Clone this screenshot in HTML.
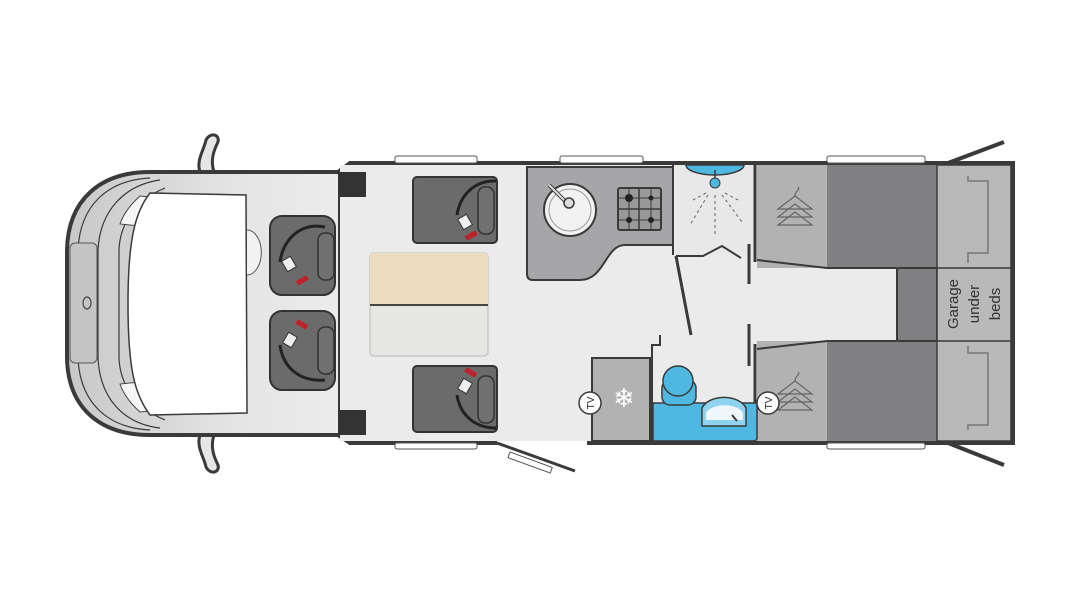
<!DOCTYPE html>
<html><head><meta charset="utf-8"><style>html,body{margin:0;padding:0;background:#fff;width:1080px;height:608px;overflow:hidden}</style></head>
<body>
<svg width="1080" height="608" viewBox="0 0 1080 608" xmlns="http://www.w3.org/2000/svg">
<defs>
<linearGradient id="cab" x1="0" x2="1" y1="0" y2="0">
<stop offset="0" stop-color="#c8c8c8"/><stop offset="0.6" stop-color="#e4e4e4"/><stop offset="1" stop-color="#ececec"/>
</linearGradient>
</defs>
<!-- mirrors -->
<path d="M200 172 C196 160 204 150 206 140 C210 132 220 134 218 142 C214 150 210 160 214 172 Z" fill="#e6e6e6" stroke="#3a3a3a" stroke-width="3"/>
<path d="M200 435 C196 447 204 457 206 467 C210 475 220 473 218 465 C214 457 210 447 214 435 Z" fill="#e6e6e6" stroke="#3a3a3a" stroke-width="3"/>
<!-- cab body -->
<path d="M340 172 L150 172 C100 172 68 200 67 250 L67 358 C68 408 100 435 150 435 L340 435 Z" fill="url(#cab)" stroke="#3a3a3a" stroke-width="4"/>
<path d="M150 178 C108 180 80 205 78 250 L78 358 C80 403 108 428 150 430" fill="none" stroke="#3a3a3a" stroke-width="1.2"/>
<path d="M160 180 C125 185 100 210 98 250 L98 358 C100 400 125 424 160 428" fill="none" stroke="#3a3a3a" stroke-width="1.2"/>
<rect x="70" y="243" width="27" height="120" rx="5" fill="#c4c4c4" stroke="#555" stroke-width="1"/>
<ellipse cx="87" cy="303" rx="4" ry="6" fill="none" stroke="#444" stroke-width="1.2"/>
<path d="M165 188 C140 198 120 220 119 250 L119 358 C120 388 140 410 165 420" fill="#d0d0d0" stroke="#3a3a3a" stroke-width="1.2"/>
<path d="M140 196 C130 205 123 215 120 224 L140 226 C145 215 150 205 160 198 Z" fill="#f6f6f6" stroke="#444" stroke-width="1"/>
<path d="M140 412 C130 403 123 393 120 384 L140 382 C145 393 150 403 160 410 Z" fill="#f6f6f6" stroke="#444" stroke-width="1"/>
<path d="M150 193 L246 195 L247 413 L150 415 C135 395 128 370 128 304 C128 240 135 212 150 193 Z" fill="#fff" stroke="#3a3a3a" stroke-width="1.5"/>
<path d="M247 230 A14 22 0 0 1 247 275" fill="#f2f2f2" stroke="#555" stroke-width="1"/>
<!-- living body -->
<path d="M338 172 L350 163 L1013 163 L1013 443 L587 443 M497 443 L350 443 L338 435" fill="none" stroke="#3a3a3a" stroke-width="4"/>
<rect x="340" y="165" width="673" height="276" fill="#ebebec"/>
<rect x="338" y="172" width="28" height="25" fill="#333"/>
<rect x="338" y="410" width="28" height="25" fill="#333"/>
<line x1="350" y1="163" x2="1013" y2="163" stroke="#3a3a3a" stroke-width="4"/>
<line x1="1013" y1="163" x2="1013" y2="443" stroke="#3a3a3a" stroke-width="4"/>
<line x1="587" y1="443" x2="1013" y2="443" stroke="#3a3a3a" stroke-width="4"/>
<line x1="350" y1="443" x2="497" y2="443" stroke="#3a3a3a" stroke-width="4"/>
<!-- windows -->
<g fill="#fff" stroke="#555" stroke-width="1">
<rect x="395" y="156" width="82" height="7" rx="2"/><rect x="560" y="156" width="83" height="7" rx="2"/><rect x="827" y="156" width="98" height="7" rx="2"/>
<rect x="395" y="443" width="82" height="6" rx="2"/><rect x="827" y="443" width="98" height="6" rx="2"/>
</g>
<!-- entrance door -->
<line x1="497" y1="443" x2="575" y2="471" stroke="#3a3a3a" stroke-width="3"/>
<rect x="510" y="452" width="45" height="6" fill="#fff" stroke="#555" stroke-width="1" transform="rotate(20 510 452)"/>
<!-- rear lines -->
<line x1="948" y1="163" x2="1004" y2="142" stroke="#3a3a3a" stroke-width="4"/>
<line x1="948" y1="443" x2="1004" y2="465" stroke="#3a3a3a" stroke-width="4"/>
<!-- cab seats -->
<g>
<rect x="270" y="216" width="65" height="79" rx="12" fill="#6b6b6b" stroke="#333" stroke-width="2"/>
<rect x="318" y="233" width="16" height="47" rx="7" fill="#707070" stroke="#333" stroke-width="1.5"/>
<path d="M325 227 C300 222 283 240 280 262" fill="none" stroke="#222" stroke-width="3"/>
<rect x="284" y="258" width="10" height="12" fill="#eee" stroke="#333" transform="rotate(-30 289 264)"/>
<rect x="296" y="278" width="12" height="5" fill="#c0202a" transform="rotate(-30 302 280)"/>
<rect x="270" y="311" width="65" height="79" rx="12" fill="#6b6b6b" stroke="#333" stroke-width="2"/>
<rect x="318" y="327" width="16" height="47" rx="7" fill="#707070" stroke="#333" stroke-width="1.5"/>
<path d="M325 380 C300 382 283 368 280 345" fill="none" stroke="#222" stroke-width="3"/>
<rect x="285" y="334" width="10" height="12" fill="#eee" stroke="#333" transform="rotate(30 290 340)"/>
<rect x="296" y="322" width="12" height="5" fill="#c0202a" transform="rotate(30 302 324)"/>
</g>
<!-- swivel seats -->
<rect x="413" y="177" width="84" height="66" rx="4" fill="#6b6b6b" stroke="#333" stroke-width="2"/>
<rect x="478" y="187" width="16" height="47" rx="7" fill="#707070" stroke="#333" stroke-width="1.5"/>
<path d="M496 181 C475 180 460 195 457 215" fill="none" stroke="#222" stroke-width="3"/>
<rect x="460" y="216" width="10" height="12" fill="#eee" stroke="#333" transform="rotate(-30 465 222)"/>
<rect x="465" y="233" width="12" height="5" fill="#c0202a" transform="rotate(-30 471 235)"/>
<rect x="413" y="366" width="84" height="66" rx="4" fill="#6b6b6b" stroke="#333" stroke-width="2"/>
<rect x="478" y="376" width="16" height="47" rx="7" fill="#707070" stroke="#333" stroke-width="1.5"/>
<path d="M496 428 C475 428 460 415 457 395" fill="none" stroke="#222" stroke-width="3"/>
<rect x="460" y="380" width="10" height="12" fill="#eee" stroke="#333" transform="rotate(30 465 386)"/>
<rect x="465" y="370" width="12" height="5" fill="#c0202a" transform="rotate(30 471 372)"/>
<!-- table -->
<rect x="370" y="253" width="118" height="103" rx="4" fill="#e6e6e3" stroke="#c9c9c9" stroke-width="1.5"/>
<path d="M370 305 L370 257 Q370 253 374 253 L484 253 Q488 253 488 257 L488 305 Z" fill="#ecdcc0"/>
<line x1="370" y1="305" x2="488" y2="305" stroke="#444" stroke-width="2"/>
<!-- kitchen -->
<path d="M527 167 L673 167 L673 245 L625 245 C605 245 605 280 580 280 L533 280 Q527 280 527 274 Z" fill="#a6a6a8" stroke="#3a3a3a" stroke-width="2"/>
<circle cx="570" cy="210" r="26" fill="#f2f2f2" stroke="#3a3a3a" stroke-width="2"/>
<circle cx="570" cy="210" r="21" fill="none" stroke="#999" stroke-width="1"/>
<line x1="549" y1="185" x2="567" y2="203" stroke="#3a3a3a" stroke-width="4"/><line x1="549" y1="185" x2="567" y2="203" stroke="#ddd" stroke-width="2"/>
<circle cx="569" cy="203" r="5" fill="#ddd" stroke="#3a3a3a" stroke-width="1.5"/>
<rect x="618" y="188" width="43" height="42" rx="2" fill="#999" stroke="#3a3a3a" stroke-width="2"/>
<line x1="639" y1="188" x2="639" y2="230" stroke="#3a3a3a" stroke-width="1.5"/><line x1="618" y1="209" x2="661" y2="209" stroke="#3a3a3a" stroke-width="1.5"/>
<g stroke="#3a3a3a" stroke-width="1">
<line x1="629" y1="188" x2="629" y2="230"/><line x1="651" y1="188" x2="651" y2="230"/><line x1="618" y1="198" x2="661" y2="198"/><line x1="618" y1="220" x2="661" y2="220"/></g>
<circle cx="629" cy="198" r="4" fill="#222"/><circle cx="651" cy="198" r="2.5" fill="#222"/><circle cx="629" cy="220" r="3" fill="#222"/><circle cx="651" cy="220" r="3" fill="#222"/>
<!-- shower -->
<rect x="676" y="165" width="79" height="90" fill="#e8e8e8"/>
<path d="M686 165 A29 10 0 0 0 744 165 Z" fill="#4fb8e0" stroke="#3a3a3a" stroke-width="1.5"/>
<line x1="715" y1="170" x2="715" y2="180" stroke="#3a3a3a" stroke-width="1.5"/>
<circle cx="715" cy="183" r="5" fill="#4fb8e0" stroke="#3a3a3a" stroke-width="1"/>
<g stroke="#666" stroke-width="1" stroke-dasharray="3 3">
<line x1="715" y1="195" x2="715" y2="235"/><line x1="708" y1="195" x2="690" y2="225"/><line x1="722" y1="195" x2="742" y2="222"/><line x1="706" y1="193" x2="693" y2="200"/><line x1="725" y1="193" x2="738" y2="200"/></g>
<line x1="673" y1="163" x2="673" y2="255" stroke="#3a3a3a" stroke-width="2"/>
<line x1="755" y1="163" x2="755" y2="262" stroke="#3a3a3a" stroke-width="3"/>
<polyline points="676,256 703,256 722,246 741,258" fill="none" stroke="#3a3a3a" stroke-width="2"/>
<line x1="676" y1="256" x2="691" y2="335" stroke="#3a3a3a" stroke-width="3"/>
<line x1="749" y1="244" x2="749" y2="284" stroke="#3a3a3a" stroke-width="3"/>
<line x1="749" y1="324" x2="749" y2="366" stroke="#3a3a3a" stroke-width="3"/>
<!-- bedroom -->
<rect x="757" y="165" width="70" height="103" fill="#b2b2b3"/>
<rect x="827" y="165" width="110" height="103" fill="#808083"/>
<rect x="757" y="341" width="70" height="100" fill="#b2b2b3"/>
<rect x="827" y="341" width="110" height="100" fill="#808083"/>
<rect x="897" y="268" width="40" height="73" rx="2" fill="#808083" stroke="#3a3a3a" stroke-width="2"/>
<polyline points="757,260 827,268 897,268" fill="none" stroke="#3a3a3a" stroke-width="2"/>
<polyline points="757,349 827,341 897,341" fill="none" stroke="#3a3a3a" stroke-width="2"/>
<line x1="755" y1="344" x2="755" y2="443" stroke="#3a3a3a" stroke-width="3"/>
<rect x="937" y="165" width="74" height="276" fill="#b9b9ba" stroke="#3a3a3a" stroke-width="1.5"/>
<line x1="937" y1="268" x2="1011" y2="268" stroke="#3a3a3a" stroke-width="1.5"/>
<line x1="937" y1="341" x2="1011" y2="341" stroke="#3a3a3a" stroke-width="1.5"/>
<polyline points="968,176 968,181 988,181 988,253 968,253 968,263" fill="none" stroke="#777" stroke-width="1.5"/>
<polyline points="968,346 968,353 988,353 988,425 968,425 968,430" fill="none" stroke="#777" stroke-width="1.5"/>
<text transform="translate(958 304) rotate(-90)" text-anchor="middle" font-family="Liberation Sans, sans-serif" font-size="15" fill="#333"><tspan x="0" dy="0">Garage</tspan><tspan x="0" dy="21">under</tspan><tspan x="0" dy="21">beds</tspan></text>
<!-- hangers -->
<g fill="none" stroke="#666" stroke-width="1.2">
<path d="M778 209 L795 196 L812 209 Z"/><path d="M778 217 L795 204 L812 217 Z"/><path d="M778 225 L795 212 L812 225 Z"/>
<path d="M795 196 C795 190 801 190 798 187"/>
<path d="M778 394 L795 381 L812 394 Z"/><path d="M778 402 L795 389 L812 402 Z"/><path d="M778 410 L795 397 L812 410 Z"/>
<path d="M795 381 C795 375 801 375 798 372"/>
</g>
<!-- fridge -->
<rect x="592" y="358" width="58" height="83" fill="#b2b2b3" stroke="#3a3a3a" stroke-width="2"/>
<text x="624" y="407" text-anchor="middle" font-family="DejaVu Sans, sans-serif" font-size="26" fill="#fff">❄</text>
<!-- bathroom -->
<polyline points="652,443 652,345 660,345 660,335" fill="none" stroke="#3a3a3a" stroke-width="2"/>
<path d="M653 403 L757 403 L757 438 Q757 441 752 441 L653 441 Z" fill="#4fb8e0" stroke="#3a3a3a" stroke-width="1.5"/>
<rect x="662" y="380" width="34" height="25" rx="8" fill="#4fb8e0" stroke="#3a3a3a" stroke-width="1.5"/>
<circle cx="678" cy="381" r="15" fill="#4fb8e0" stroke="#3a3a3a" stroke-width="1.5"/>
<path d="M702 426 L702 408 A23 15 0 0 1 746 408 L746 426 Z" fill="#8fd3ee" stroke="#3a3a3a" stroke-width="1.5"/>
<path d="M706 413 A19 10 0 0 1 743 413 L743 420 L706 420 Z" fill="#eef8fc"/>
<line x1="732" y1="415" x2="737" y2="421" stroke="#3a3a3a" stroke-width="2"/>
<!-- TV -->
<g font-family="Liberation Sans, sans-serif" font-size="10" fill="#222">
<circle cx="590" cy="403" r="11" fill="#fff" stroke="#3a3a3a" stroke-width="1.5"/>
<text transform="translate(594 403) rotate(-90)" text-anchor="middle">TV</text>
<circle cx="768" cy="403" r="11" fill="#fff" stroke="#3a3a3a" stroke-width="1.5"/>
<text transform="translate(772 403) rotate(-90)" text-anchor="middle">TV</text>
</g>
</svg>
</body></html>
